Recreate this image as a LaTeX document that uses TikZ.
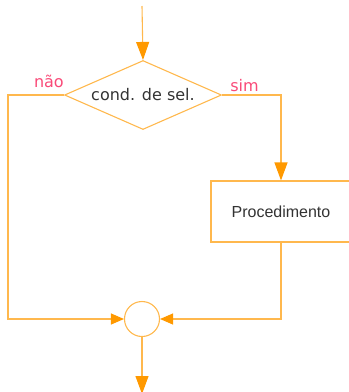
\documentclass[tikz,border=0pt]{standalone}
\usepackage{fontspec}
\setmainfont{DejaVu Sans}
\newfontfamily\procfont{Liberation Sans}
\usetikzlibrary{shapes.geometric,arrows.meta}
\definecolor{linecol}{HTML}{FFB84D}
\definecolor{tipcol}{HTML}{FF9900}
\definecolor{labcol}{HTML}{F94A78}
\definecolor{txtcol}{HTML}{333333}
\tikzset{
  flow/.style={draw=linecol, line width=1.1pt},
  bigtip/.style={-{Triangle[length=18pt,width=13pt,color=tipcol]}},
  smalltip/.style={-{Triangle[length=13pt,width=11pt,color=tipcol]}},
  decision/.style={diamond, draw=linecol, line width=1.1pt, aspect=2.3,
    minimum width=157pt, minimum height=69pt, inner sep=0pt, text=txtcol,
    font=\fontsize{16}{19}\selectfont},
  process/.style={rectangle, draw=linecol, line width=1.1pt, fill=white,
    minimum width=140pt, minimum height=61pt, text=txtcol,
    font=\procfont\fontsize{16}{19}\selectfont},
  junction/.style={circle, draw=linecol, line width=1.1pt,
    minimum size=35pt, inner sep=0pt},
  answer/.style={text=labcol, inner sep=0pt, font=\fontsize{16}{19}\selectfont}
}
\begin{document}
\begin{tikzpicture}[x=1pt,y=-1pt]
\useasboundingbox (0,0) rectangle (349,392);
\clip (0,0) rectangle (349,392);
% draw the nodes
\node (cond) [decision] at (143,95) {cond. de sel.};
\node (proc) [process] at (281,211.5) {Procedimento};
\node (join) [junction] at (142,319) {};
\coordinate (in) at (142,6);
\coordinate (out) at (142,394);
\coordinate (nocorner) at (8,95);
% add the labels
\node (no) [answer, anchor=base east] at ([yshift=8pt]cond.west) {não};
\node (yes) [answer, anchor=base west] at ([xshift=8pt,yshift=3.5pt]cond.east) {sim};
% draw the connectors
\draw[flow, bigtip] (in) -- (cond.north);
\draw[flow, bigtip] (cond.east) -| (proc.north);
\draw[flow, smalltip] (cond.west) -- (nocorner) |- (join.west);
\draw[flow, smalltip] (proc.south) |- (join.east);
\draw[flow, bigtip] (join.south) -- (out);
\end{tikzpicture}
\end{document}
